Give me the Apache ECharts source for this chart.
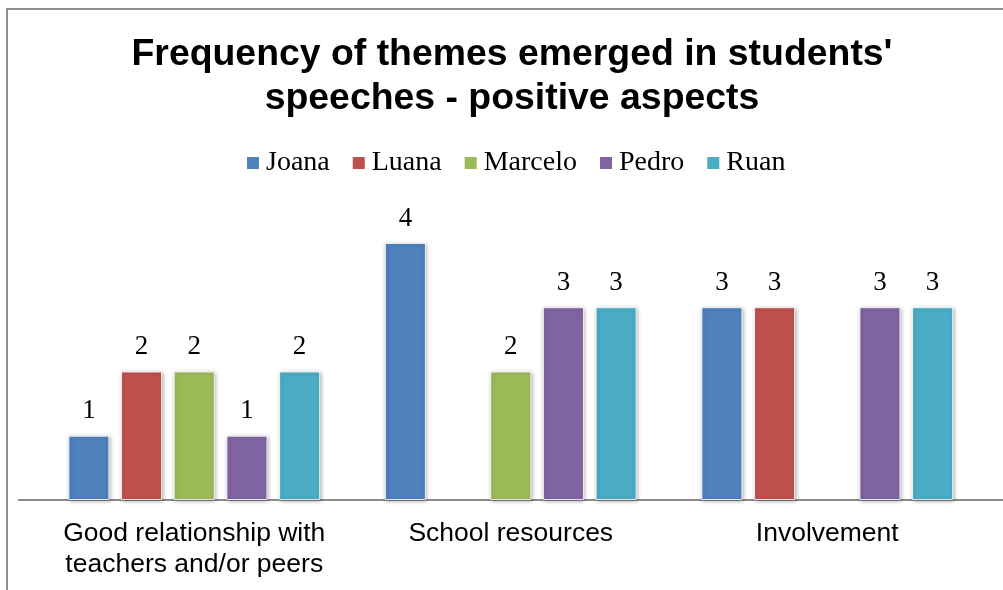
<!DOCTYPE html>
<html>
<head>
<meta charset="utf-8">
<script src="https://cdn.jsdelivr.net/npm/echarts@6/dist/echarts.min.js"></script>
<style>html,body{margin:0;padding:0;background:#fff;}#c{width:1003px;height:590px;}</style>
</head>
<body>
<div id="c"></div>
<script>
const categories = ['Good relationship with\nteachers and/or peers', 'School resources', 'Involvement'];
const seriesNames = ['Joana', 'Luana', 'Marcelo', 'Pedro', 'Ruan'];
const joana = [1, 4, 3];
const luana = [2, null, 3];
const marcelo = [2, 2, null];
const pedro = [1, 3, 3];
const ruan = [2, 3, 3];
const colors = ['#4F81BD', '#C0504D', '#9BBB59', '#8064A2', '#4BACC6'];
const titleText = "Frequency of themes emerged in students'\nspeeches - positive aspects";

const values = [joana, luana, marcelo, pedro, ruan];
const serif = '"Liberation Serif", "DejaVu Serif", serif';
const sans = '"Liberation Sans", Arial, sans-serif';

const chart = echarts.init(document.getElementById('c'));
chart.setOption({
  animation: false,
  backgroundColor: '#fff',
  title: {
    text: titleText,
    left: 507, textAlign: 'center',
    top: 28,
    textStyle: { fontFamily: sans, fontSize: 37.4, fontWeight: 'bold', color: '#000', lineHeight: 44 }
  },
  legend: {
    data: seriesNames,
    left: 242, top: 144,
    icon: 'rect', itemWidth: 12, itemHeight: 12, itemGap: 23,
    itemStyle: { borderWidth: 0, shadowBlur: 0 },
    textStyle: { fontFamily: serif, fontSize: 28, color: '#000', padding: [0, 0, 0, 2] }
  },
  grid: { left: 36, right: 17.5, top: 243, bottom: 90 },
  xAxis: {
    type: 'category', data: categories,
    axisLine: { show: false },
    axisTick: { show: false },
    axisLabel: { fontFamily: sans, fontSize: 26.5, color: '#000', margin: 18, lineHeight: 31, interval: 0 }
  },
  yAxis: { type: 'value', min: 0, max: 4, show: false, splitLine: { show: false } },
  graphic: [
    { type: 'rect', shape: { x: 7, y: 9, width: 1020, height: 600 }, style: { fill: 'none', stroke: '#8e8e8e', lineWidth: 2 }, z: 100 },
    { type: 'line', shape: { x1: 18, y1: 500, x2: 1003, y2: 500 }, style: { stroke: '#8c8c8c', lineWidth: 2 }, z: 1 }
  ],
  series: seriesNames.map((n, i) => ({
    name: n, type: 'bar', data: values[i],
    barWidth: 41, barGap: '28.5%',
    itemStyle: { color: colors[i], borderColor: 'rgba(255,255,255,0.8)', borderWidth: 1,
      shadowBlur: 4, shadowColor: 'rgba(0,0,0,0.3)', shadowOffsetX: 1, shadowOffsetY: 1 },
    label: { show: true, position: 'top', distance: 11, fontFamily: serif, fontSize: 27, color: '#000' },
    z: 2
  }))
});
</script>
</body>
</html>
